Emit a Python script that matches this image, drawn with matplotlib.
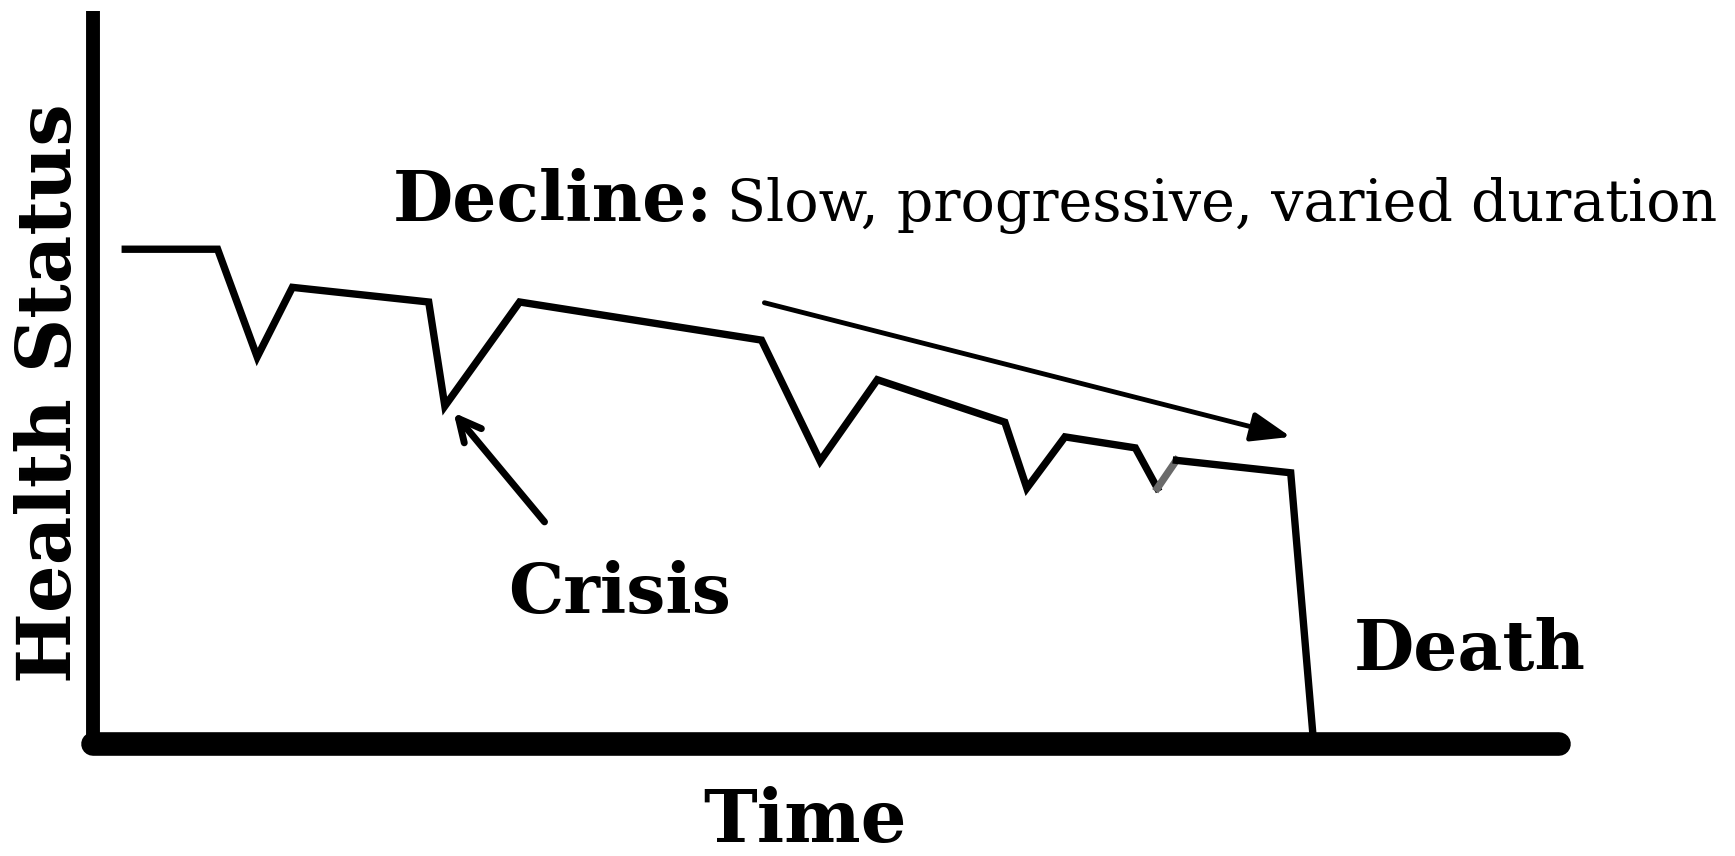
import matplotlib
matplotlib.use("Agg")
import matplotlib.pyplot as plt

W, H = 1735, 856

# health trajectory (time 0-100, health 0-100)
time = [2.2, 8.5, 11.2, 13.6, 22.9, 24.0, 29.1, 45.6, 49.6, 53.5,
        62.2, 63.7, 66.3, 71.1, 72.6, 73.9, 81.7, 83.2]
health = [67.5, 67.5, 52.8, 62.3, 60.3, 46.1, 60.3, 55.1, 38.6, 49.7,
          43.9, 34.9, 41.9, 40.4, 34.9, 38.7, 37.0, 1.6]
gray_seg = (14, 15)  # faint grey stroke in the last small dip

decline_start, decline_end = (45.8, 60.2), (81.7, 41.9)
crisis_tail, crisis_tip = (30.8, 30.3), (24.6, 45.2)

serif = ["DejaVu Serif"]

fig = plt.figure(figsize=(W / 100, H / 100), dpi=100)
ax = fig.add_axes([93 / W, (856 - 744) / H, (1559 - 93) / W, (744 - 11) / H])
ax.set_xlim(0, 100)
ax.set_ylim(0, 100)
ax.axis("off")

# axes drawn by hand
ax.plot([0, 100], [0, 0], color="black", lw=17, solid_capstyle="round", clip_on=False)
ax.plot([0, 0], [0, 100], color="black", lw=10, solid_capstyle="butt", clip_on=False)

i, j = gray_seg
ax.plot(time[:i + 1], health[:i + 1], color="black", lw=5.3, solid_joinstyle="miter")
ax.plot(time[i:j + 1], health[i:j + 1], color="#6a6a6a", lw=5.3)
ax.plot(time[j:], health[j:], color="black", lw=5.3, solid_joinstyle="miter")

ax.annotate("", xy=decline_end, xytext=decline_start,
            arrowprops=dict(arrowstyle="-|>,head_length=2.4,head_width=0.9",
                            color="black", lw=3.5, shrinkA=0, shrinkB=0))
ax.annotate("", xy=crisis_tip, xytext=crisis_tail,
            arrowprops=dict(arrowstyle="->,head_length=1.6,head_width=0.8",
                            color="black", lw=5, shrinkA=0, shrinkB=0))

def px(x, y):
    return x / W, 1 - y / H

fig.text(*px(51, 393), "Health Status", rotation=90, ha="center", va="center",
         fontsize=54, fontweight="bold", family=serif)
fig.text(*px(805, 842), "Time", ha="center", va="baseline",
         fontsize=52, fontweight="bold", family=serif)
fig.text(*px(620, 613), "Crisis", ha="center", va="baseline",
         fontsize=50, fontweight="bold", family=serif)
fig.text(*px(1354, 670), "Death", ha="left", va="baseline",
         fontsize=50, fontweight="bold", family=serif)
fig.text(*px(393, 221), "Decline:", ha="left", va="baseline",
         fontsize=50, fontweight="bold", family=serif)
fig.text(*px(727, 221), "Slow, progressive, varied duration", ha="left", va="baseline",
         fontsize=41, family=serif)

fig.savefig("out.png", dpi=100, facecolor="white")
